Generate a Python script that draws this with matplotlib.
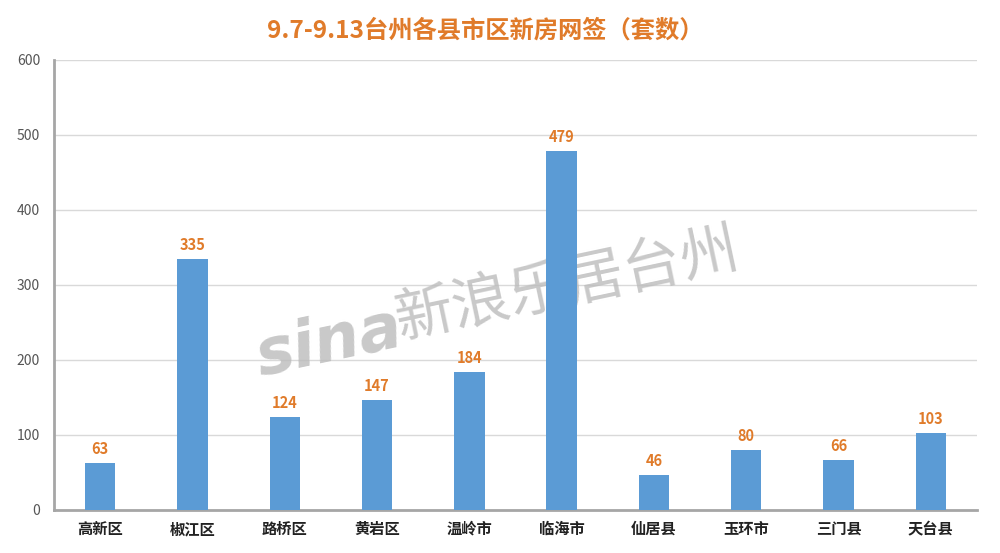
import matplotlib.pyplot as plt

plt.rcParams['font.family'] = ['Noto Sans CJK SC', 'DejaVu Sans']

# data
districts = ['高新区', '椒江区', '路桥区', '黄岩区', '温岭市', '临海市', '仙居县', '玉环市', '三门县', '天台县']
sales = [63, 335, 124, 147, 184, 479, 46, 80, 66, 103]
y_ticks = [0, 100, 200, 300, 400, 500, 600]

orange = '#E07B2A'
blue = '#5B9BD5'

fig = plt.figure(figsize=(10, 5.53), dpi=100)
ax = fig.add_axes([0.054, 0.078, 0.923, 0.814])

x = range(len(districts))
bars = ax.bar(x, sales, width=0.33, color=blue, zorder=3)

for b, v in zip(bars, sales):
    ax.text(b.get_x() + b.get_width() / 2, v + 8, str(v), ha='center', va='bottom',
            color=orange, fontsize=10.5, fontweight='bold', zorder=4)

ax.set_xlim(-0.5, len(districts) - 0.5)
ax.set_ylim(0, 600)
ax.set_yticks(y_ticks)
ax.set_yticklabels([str(t) for t in y_ticks], color='#555555', fontsize=10)
ax.set_xticks(list(x))
ax.set_xticklabels(districts, fontsize=11, fontweight='bold', color='#222222')
ax.tick_params(axis='both', length=0)
ax.tick_params(axis='y', pad=10)
ax.tick_params(axis='x', pad=8)

ax.grid(axis='y', color='#D9D9D9', linewidth=1, zorder=0)
for s in ['top', 'right']:
    ax.spines[s].set_visible(False)
ax.spines['left'].set_color('#A6A6A6')
ax.spines['left'].set_linewidth(2)
ax.spines['bottom'].set_color('#A6A6A6')
ax.spines['bottom'].set_linewidth(2)

fig.text(0.485, 0.945, '9.7-9.13台州各县市区新房网签（套数）', ha='center', va='center',
         color=orange, fontsize=17.5, fontweight='bold')

# watermark (behind the bars)
ax.text(0.25, 0.32, 'sina', transform=fig.transFigure, color='#BBBBBB', fontsize=46,
        fontweight='bold', style='italic', rotation=12, alpha=0.8,
        family='DejaVu Sans', zorder=2, clip_on=False)
ax.text(0.39, 0.39, '新浪乐居台州', transform=fig.transFigure, color='#BBBBBB',
        fontsize=42, fontweight='light', rotation=12, alpha=0.8, zorder=2, clip_on=False)

fig.savefig('out.png')
